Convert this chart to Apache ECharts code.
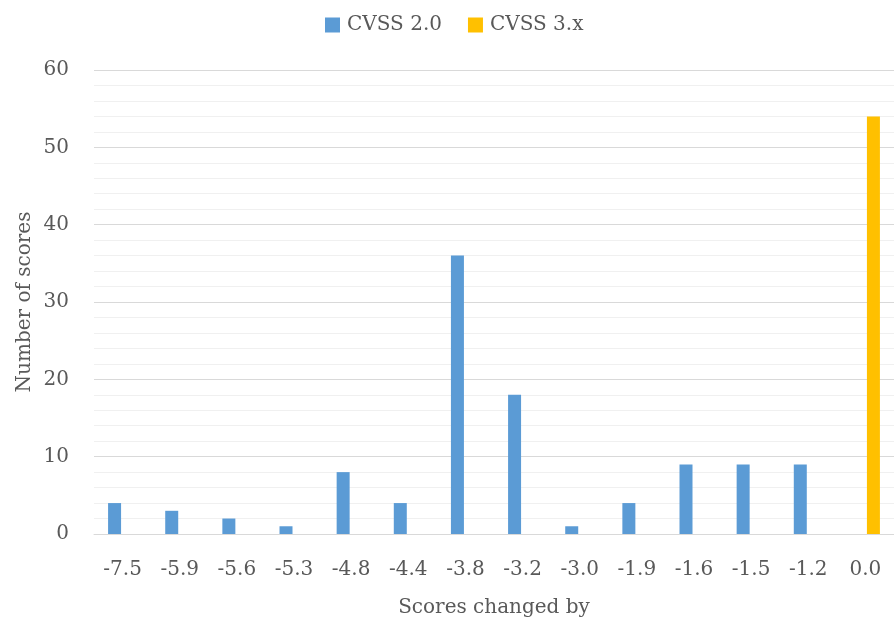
<!DOCTYPE html>
<html><head><meta charset="utf-8">
<script src="https://cdn.jsdelivr.net/npm/echarts@6/dist/echarts.min.js"></script>
<style>html,body{margin:0;padding:0;background:#fff}#c{width:894px;height:624px}</style>
</head><body><div id="c"></div>
<script>
const categories = ['-7.5','-5.9','-5.6','-5.3','-4.8','-4.4','-3.8','-3.2','-3.0','-1.9','-1.6','-1.5','-1.2','0.0'];
const cvss2 = [4,3,2,1,8,4,36,18,1,4,9,9,9,0];
const cvss3 = [0,0,0,0,0,0,0,0,0,0,0,0,0,54];
const yTicks = {min:0, max:60, interval:10};
const FONT = 'DejaVu Serif';
const TXT = '#595959';
const chart = echarts.init(document.getElementById('c'));
chart.setOption({
  animation:false,
  textStyle:{fontFamily:FONT},
  legend:{top:10,left:320,itemWidth:15,itemHeight:15,itemGap:26,icon:'rect',
    textStyle:{fontFamily:FONT,fontSize:20,color:TXT,padding:[0,0,0,2]},
    data:['CVSS 2.0','CVSS 3.x']},
  grid:{left:94,right:-3,top:70,bottom:90,containLabel:false},
  xAxis:{type:'category',data:categories,
    axisLine:{lineStyle:{color:'#d9d9d9',width:1}},axisTick:{show:false},
    axisLabel:{fontFamily:FONT,fontSize:20,color:TXT,margin:26},
    name:'Scores changed by',nameLocation:'middle',nameGap:64,
    nameTextStyle:{fontFamily:FONT,fontSize:20,color:TXT}},
  yAxis:{type:'value',min:yTicks.min,max:yTicks.max,interval:yTicks.interval,
    axisLine:{show:false},axisTick:{show:false},
    axisLabel:{fontFamily:FONT,fontSize:20,color:TXT,margin:25},
    splitLine:{lineStyle:{color:'#d9d9d9',width:1}},
    minorTick:{show:false,splitNumber:5},
    minorSplitLine:{show:true,lineStyle:{color:'#f0f0f0',width:1}},
    name:'Number of scores',nameLocation:'middle',nameGap:59,nameMoveOverlap:false,
    nameTextStyle:{fontFamily:FONT,fontSize:20,color:TXT}},
  series:[
    {name:'CVSS 2.0',type:'bar',data:cvss2,barWidth:13,barGap:'23%',itemStyle:{color:'#5b9bd5'}},
    {name:'CVSS 3.x',type:'bar',data:cvss3,barWidth:13,barGap:'23%',itemStyle:{color:'#ffc000'}}
  ]
});
</script></body></html>
